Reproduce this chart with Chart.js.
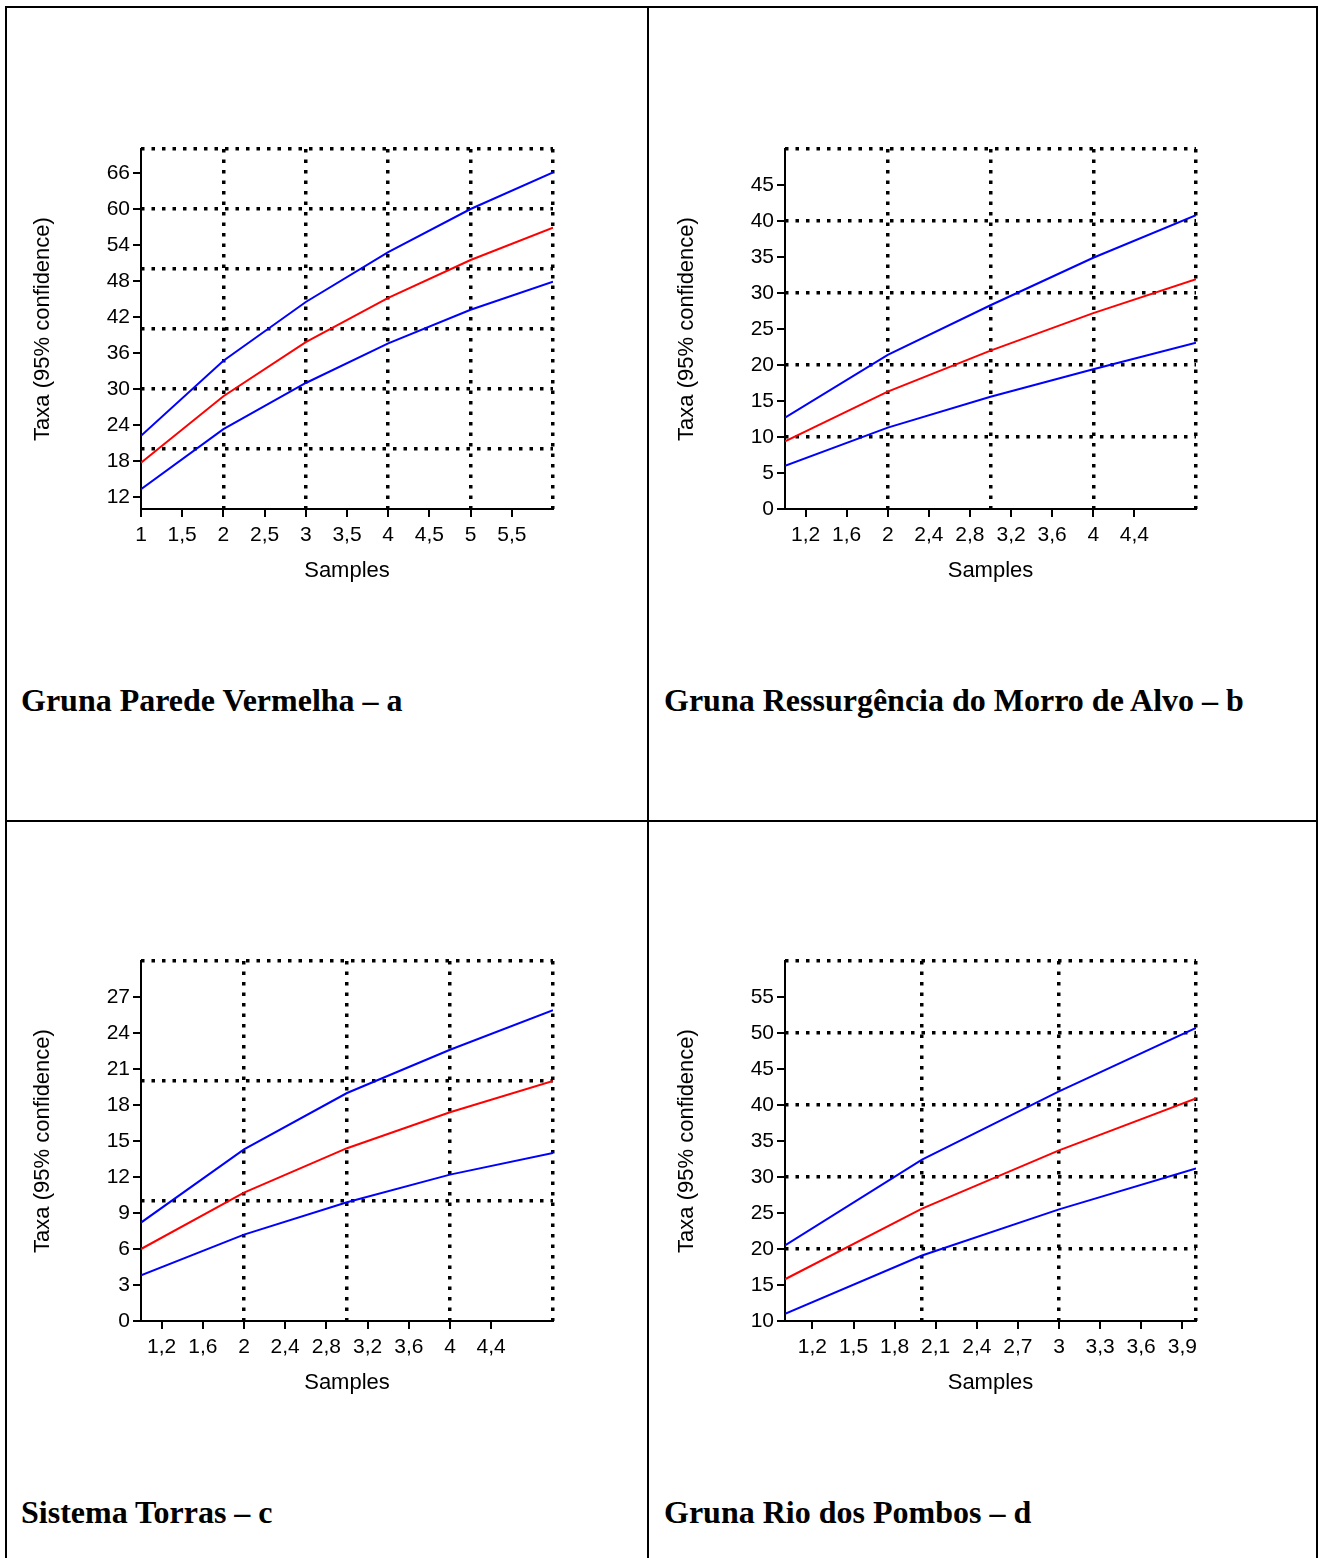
<!DOCTYPE html>
<html lang="pt">
<head>
<meta charset="utf-8">
<title>Curvas de acumulação - grutas</title>
<script src="https://cdn.jsdelivr.net/npm/chart.js@4.4.1/dist/chart.umd.min.js"></script>
<style>
  body { margin: 0; background: #fff; }
  #page { position: relative; width: 1320px; height: 1558px; overflow: hidden; background: #fff; }
  .rule { position: absolute; background: #000; }
  .title {
    position: absolute;
    font-family: 'Liberation Serif', 'Times New Roman', serif;
    font-weight: bold;
    font-size: 32px;
    line-height: 32px;
    white-space: nowrap;
    color: #000;
  }
  canvas { position: absolute; }
</style>
</head>
<body>
<div id="page">
  <!-- table borders -->
  <div class="rule" style="left:5px;top:6px;width:1313px;height:2px"></div>
  <div class="rule" style="left:5px;top:6px;width:2px;height:1600px"></div>
  <div class="rule" style="left:647px;top:6px;width:2px;height:1600px"></div>
  <div class="rule" style="left:1316px;top:6px;width:2px;height:1600px"></div>
  <div class="rule" style="left:5px;top:820px;width:1313px;height:2px"></div>

  <canvas id="chartA" width="552" height="460" style="left:21px;top:129px"></canvas>
  <canvas id="chartB" width="551" height="460" style="left:665px;top:129px"></canvas>
  <canvas id="chartC" width="552" height="460" style="left:21px;top:941px"></canvas>
  <canvas id="chartD" width="551" height="460" style="left:665px;top:941px"></canvas>

  <div class="title" style="left:21px;top:684px">Gruna Parede Vermelha – a</div>
  <div class="title" style="left:664px;top:684px">Gruna Ressurgência do Morro de Alvo – b</div>
  <div class="title" style="left:21px;top:1496px">Sistema Torras – c</div>
  <div class="title" style="left:664px;top:1496px">Gruna Rio dos Pombos – d</div>
</div>

<script>
// --- Data ---
// a - Gruna Parede Vermelha
const samplesA = [1, 2, 3, 4, 5, 6];
const upperA = [22.2, 34.7, 44.5, 52.8, 60.0, 66.1];
const meanA  = [17.7, 28.8, 37.8, 45.2, 51.5, 56.9];
const lowerA = [13.3, 23.3, 31.0, 37.6, 43.2, 47.9];
const xTicksA = [1, 1.5, 2, 2.5, 3, 3.5, 4, 4.5, 5, 5.5];
const yTicksA = [12, 18, 24, 30, 36, 42, 48, 54, 60, 66];
const xGridA = [2, 3, 4, 5, 6];
const yGridA = [20, 30, 40, 50, 60, 70];

// b - Gruna Ressurgência do Morro de Alvo
const samplesB = [1, 2, 3, 4, 5];
const upperB = [12.7, 21.4, 28.3, 34.9, 40.8];
const meanB  = [9.4, 16.3, 22.0, 27.2, 31.9];
const lowerB = [6.0, 11.3, 15.6, 19.4, 23.1];
const xTicksB = [1.2, 1.6, 2, 2.4, 2.8, 3.2, 3.6, 4, 4.4];
const yTicksB = [0, 5, 10, 15, 20, 25, 30, 35, 40, 45];
const xGridB = [2, 3, 4, 5];
const yGridB = [10, 20, 30, 40, 50];

// c - Sistema Torras
const samplesC = [1, 2, 3, 4, 5];
const upperC = [8.2, 14.3, 19.0, 22.6, 25.9];
const meanC  = [6.0, 10.7, 14.4, 17.4, 20.0];
const lowerC = [3.8, 7.2, 9.9, 12.2, 14.0];
const xTicksC = [1.2, 1.6, 2, 2.4, 2.8, 3.2, 3.6, 4, 4.4];
const yTicksC = [0, 3, 6, 9, 12, 15, 18, 21, 24, 27];
const xGridC = [2, 3, 4, 5];
const yGridC = [10, 20, 30];

// d - Gruna Rio dos Pombos
const samplesD = [1, 2, 3, 4];
const upperD = [20.5, 32.4, 41.9, 50.7];
const meanD  = [15.8, 25.6, 33.7, 40.9];
const lowerD = [11.0, 19.1, 25.5, 31.2];
const xTicksD = [1.2, 1.5, 1.8, 2.1, 2.4, 2.7, 3, 3.3, 3.6, 3.9];
const yTicksD = [10, 15, 20, 25, 30, 35, 40, 45, 50, 55];
const xGridD = [2, 3, 4];
const yGridD = [20, 30, 40, 50, 60];

// --- Chart setup ---
Chart.defaults.font.family = "'Liberation Sans', Arial, sans-serif";
Chart.defaults.color = '#000';

const fixedTicks = values => scale => { scale.ticks = values.map(v => ({ value: v })); };
const commaLabel = v => String(v).replace('.', ',');

function drawPanel(canvasId, samples, upper, mean, lower, axes) {
    const points = ys => samples.map((x, i) => ({ x: x, y: ys[i] }));
    // dotted grid lives on its own hidden-label scales
    const dottedGrid = { color: '#000', lineWidth: 3.5, drawTicks: false, drawOnChartArea: true };
    const dottedBorder = { display: false, dash: [3.5, 7] };

    return new Chart(document.getElementById(canvasId), {
        type: 'line',
        data: {
            datasets: [
                { data: points(upper), borderColor: '#0000ff' },
                { data: points(mean), borderColor: '#ff0000' },
                { data: points(lower), borderColor: '#0000ff' }
            ]
        },
        options: {
            responsive: false,
            animation: false,
            layout: { padding: { left: 0, top: 20, right: 20, bottom: 5 } },
            plugins: { legend: { display: false }, tooltip: { enabled: false } },
            elements: { line: { borderWidth: 2, tension: 0 }, point: { radius: 0 } },
            scales: {
                x: {
                    type: 'linear', min: axes.x[0], max: axes.x[1],
                    afterBuildTicks: fixedTicks(axes.xTicks),
                    afterFit: s => { s.height = 75; },
                    ticks: { autoSkip: false, maxRotation: 0, padding: 6, callback: commaLabel, font: { size: 21 } },
                    grid: { drawOnChartArea: false, tickLength: 8, lineWidth: 2, color: '#000' },
                    border: { color: '#000', width: 2 },
                    title: { display: true, text: 'Samples', font: { size: 22 }, padding: 0 }
                },
                xg: {
                    type: 'linear', position: 'bottom', min: axes.x[0], max: axes.x[1],
                    afterBuildTicks: fixedTicks(axes.xGrid),
                    afterFit: s => { s.height = 0; },
                    ticks: { display: false },
                    grid: dottedGrid,
                    border: dottedBorder
                },
                y: {
                    type: 'linear', min: axes.y[0], max: axes.y[1],
                    afterBuildTicks: fixedTicks(axes.yTicks),
                    afterFit: s => { s.width = 120; },
                    ticks: { padding: 3, font: { size: 21 } },
                    grid: { drawOnChartArea: false, tickLength: 8, lineWidth: 2, color: '#000' },
                    border: { color: '#000', width: 2 },
                    title: { display: true, text: 'Taxa (95% confidence)', font: { size: 22 }, padding: { top: 9, bottom: 0 } }
                },
                yg: {
                    type: 'linear', position: 'left', min: axes.y[0], max: axes.y[1],
                    afterBuildTicks: fixedTicks(axes.yGrid),
                    afterFit: s => { s.width = 0; },
                    ticks: { display: false },
                    grid: dottedGrid,
                    border: dottedBorder
                }
            }
        }
    });
}

drawPanel('chartA', samplesA, upperA, meanA, lowerA,
    { x: [1, 6], y: [10, 70], xTicks: xTicksA, yTicks: yTicksA, xGrid: xGridA, yGrid: yGridA });
drawPanel('chartB', samplesB, upperB, meanB, lowerB,
    { x: [1, 5], y: [0, 50], xTicks: xTicksB, yTicks: yTicksB, xGrid: xGridB, yGrid: yGridB });
drawPanel('chartC', samplesC, upperC, meanC, lowerC,
    { x: [1, 5], y: [0, 30], xTicks: xTicksC, yTicks: yTicksC, xGrid: xGridC, yGrid: yGridC });
drawPanel('chartD', samplesD, upperD, meanD, lowerD,
    { x: [1, 4], y: [10, 60], xTicks: xTicksD, yTicks: yTicksD, xGrid: xGridD, yGrid: yGridD });
</script>
</body>
</html>
